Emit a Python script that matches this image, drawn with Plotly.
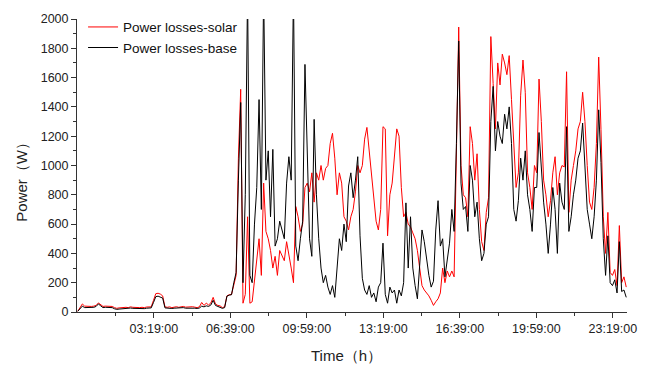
import plotly.graph_objects as go

# Time grid in minutes since 00:00 (6-minute samples)
time_min = list(range(0, 1440, 6))

solar = [
    5, 30, 55, 40, 38, 40, 38, 40, 45, 62,
    50, 38, 40, 38, 40, 38, 30, 25, 28, 30,
    28, 32, 30, 35, 32, 30, 33, 30, 32, 30,
    34, 32, 35, 80, 125, 128, 122, 110, 35, 32,
    35, 30, 33, 36, 32, 35, 38, 33, 35, 32,
    36, 33, 30, 35, 65, 45, 60, 48, 62, 100,
    55, 45, 42, 30, 35, 110, 118, 120, 190, 250,
    1050, 1520, 60, 120, 650, 60, 70, 200, 350, 500,
    250, 880, 550, 500, 420, 300, 380, 250, 420, 380,
    350, 480, 400, 300, 200, 720, 650, 550, 600, 850,
    880, 820, 950, 750, 950, 900, 1000, 900, 980, 1000,
    1150, 1220, 1050, 800, 950, 880, 650, 620, 560, 650,
    700, 820, 1000, 950, 1000, 1180, 1260, 1100, 920, 800,
    620, 560, 700, 1265, 1250, 520, 800, 880, 1060, 1250,
    1200, 850, 650, 680, 600, 580, 540, 500, 420, 300,
    180, 150, 130, 110, 80, 45, 70, 90, 130, 300,
    200, 280, 240, 280, 240, 1000, 1945, 1000, 800, 780,
    650, 1265, 1150, 900, 1080, 700, 480, 420, 680, 780,
    1880, 1560, 1250, 1700, 1550, 1760, 1700, 1620, 1750, 1450,
    1100, 850, 950, 1480, 1720, 1500, 950, 850, 700, 1000,
    950, 1590, 1300, 900, 800, 650, 760, 950, 1060, 800,
    950, 1000, 990, 1640, 680, 900, 1000, 1100, 1250, 1300,
    1500, 1300, 1000, 750, 700, 850, 1150, 1740, 1245, 650,
    400, 680, 270, 250, 290, 180, 590, 200, 240, 170,
]

base = [
    5, 25, 40, 30, 30, 32, 30, 32, 38, 55,
    42, 30, 32, 30, 33, 30, 22, 18, 20, 22,
    22, 25, 24, 27, 25, 24, 26, 24, 25, 23,
    26, 25, 28, 65, 105, 108, 104, 95, 28, 25,
    27, 24, 26, 28, 25, 27, 30, 26, 27, 25,
    28, 26, 24, 27, 40, 35, 42, 38, 48, 80,
    45, 38, 35, 25, 30, 108, 115, 118, 200, 270,
    900, 1430, 200, 800, 2200, 250, 200, 600, 850, 1450,
    700, 2200, 900, 1100, 650, 1110, 450, 500, 620, 550,
    500, 880, 1060, 900, 2200, 450, 350, 500, 620, 1690,
    1100, 500, 380, 1315, 800, 500, 300, 200, 250, 170,
    120, 180, 100, 300, 500, 420, 600, 480, 860, 950,
    780, 900, 1060, 520, 230, 150, 120, 180, 100, 130,
    70, 170, 200, 470, 120, 60, 170, 130, 150, 60,
    150, 110, 200, 745, 300, 650, 300, 180, 90, 320,
    560, 480, 360, 250, 170, 210, 560, 760, 450, 500,
    240, 350, 470, 700, 550, 1150, 1850, 880, 700, 720,
    550, 1000, 900, 650, 750, 500, 350, 400, 600, 650,
    1300, 1540, 1100, 1300, 1200, 1150, 1350, 1250, 1400, 1150,
    700, 620, 760, 1050, 900, 1100, 800, 700, 550, 850,
    850, 1225, 950, 750, 600, 400, 600, 850, 700, 400,
    880, 750, 700, 1265, 550, 650, 800, 900, 1050, 1100,
    1290, 950, 700, 600, 500, 650, 900, 1380, 1020, 500,
    250, 520, 200, 180, 220, 130, 480, 140, 150, 100,
]

x_tickvals = [199, 399, 599, 799, 999, 1199, 1399]
x_ticktext = ["03:19:00", "06:39:00", "09:59:00", "13:19:00", "16:39:00", "19:59:00", "23:19:00"]
x_minor = [99, 299, 499, 699, 899, 1099, 1299]

FONT = "Liberation Sans, Arial, sans-serif"
AX = "#333333"

fig = go.Figure()
fig.add_trace(go.Scatter(x=time_min, y=solar, mode="lines", name="Power losses-solar",
                         line=dict(color="#ff0000", width=1)))
fig.add_trace(go.Scatter(x=time_min, y=base, mode="lines", name="Power losses-base",
                         line=dict(color="#000000", width=1)))

fig.update_layout(
    width=654, height=368,
    margin=dict(l=77, r=27, t=19, b=56),
    paper_bgcolor="white", plot_bgcolor="white",
    font=dict(family=FONT, color="#222222", size=12),
    showlegend=True,
    legend=dict(x=0.011, y=1.025, xanchor="left", yanchor="top",
                bgcolor="rgba(0,0,0,0)", font=dict(size=13.5, family=FONT, color="#111"),
                itemwidth=30, tracegroupgap=0),
    xaxis=dict(range=[-2, 1436], showline=True, linecolor=AX, linewidth=1,
               ticks="outside", ticklen=5, tickcolor=AX, tickwidth=1,
               tickvals=x_tickvals, ticktext=x_ticktext,
               minor=dict(tickvals=x_minor, ticks="outside", ticklen=3, tickcolor=AX),
               showgrid=False, zeroline=False,
               tickfont=dict(size=12.5, family=FONT, color="#222")),
    yaxis=dict(range=[0, 2000], showline=True, linecolor=AX, linewidth=1,
               ticks="outside", ticklen=5, tickcolor=AX, tickwidth=1,
               tick0=0, dtick=200,
               minor=dict(dtick=100, ticks="outside", ticklen=3, tickcolor=AX),
               showgrid=False, zeroline=False,
               tickfont=dict(size=12.5, family=FONT, color="#222")),
    annotations=[
        dict(text="Time（h）", xref="paper", yref="paper", x=0.49, y=-0.148,
             xanchor="center", yanchor="middle", showarrow=False,
             font=dict(size=15, family=FONT, color="#222")),
        dict(text="Power（W）", xref="paper", yref="paper", x=-0.1, y=0.455,
             xanchor="center", yanchor="middle", showarrow=False, textangle=-90,
             font=dict(size=15, family=FONT, color="#222")),
    ],
)

fig.write_html("out.html")
